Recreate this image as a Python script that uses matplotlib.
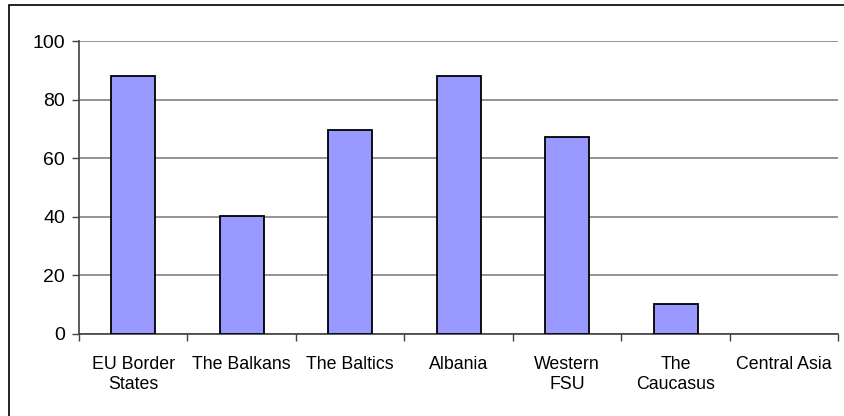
import matplotlib
matplotlib.use("Agg")
import matplotlib.pyplot as plt
from matplotlib.patches import Rectangle

plt.rcParams['font.family'] = ['Liberation Sans', 'DejaVu Sans']

categories = ["EU Border\nStates", "The Balkans", "The Baltics", "Albania",
              "Western\nFSU", "The\nCaucasus", "Central Asia"]
values = [88, 40.4, 69.6, 88, 67.3, 10.2, 0]
yticks = [0, 20, 40, 60, 80, 100]

W, H = 845, 416
fig = plt.figure(figsize=(W / 100, H / 100), dpi=100)

# outer frame around the chart area
fig.patches.append(Rectangle((9 / W, -0.1), 1.2, 1 - 5 / H + 0.1,
                             transform=fig.transFigure, fill=False,
                             edgecolor='black', linewidth=1.2))

ax = fig.add_axes([79 / W, 1 - 334 / H, (838.5 - 79) / W, (334 - 41) / H])

x = list(range(len(categories)))
edges = ['black' if v > 0 else 'none' for v in values]
ax.bar(x, values, width=0.41, color='#9999FF', edgecolor=edges,
       linewidth=1.3, zorder=3)

ax.set_xlim(-0.5, len(categories) - 0.5)
ax.set_ylim(0, 100)
ax.set_yticks(yticks)
ax.set_yticklabels([str(v) for v in yticks], fontsize=14)

ax.set_xticks(x)
ax.set_xticklabels(categories, fontsize=12.8, linespacing=1.25)
ax.tick_params(axis='x', length=0, pad=16)
# category separators on the bottom axis
ax.set_xticks([i - 0.5 for i in range(len(categories) + 1)], minor=True)
ax.tick_params(axis='x', which='minor', length=5, direction='out',
               width=1, color='#404040')
ax.tick_params(axis='y', length=5, width=1, color='#404040', pad=5)

ax.yaxis.grid(True, color='#808080', linewidth=1.2, zorder=0)
ax.set_axisbelow(True)
for s in ['top', 'right']:
    ax.spines[s].set_visible(False)
for s in ['left', 'bottom']:
    ax.spines[s].set_color('#404040')
    ax.spines[s].set_linewidth(1.2)

fig.savefig("out.png", dpi=100)
